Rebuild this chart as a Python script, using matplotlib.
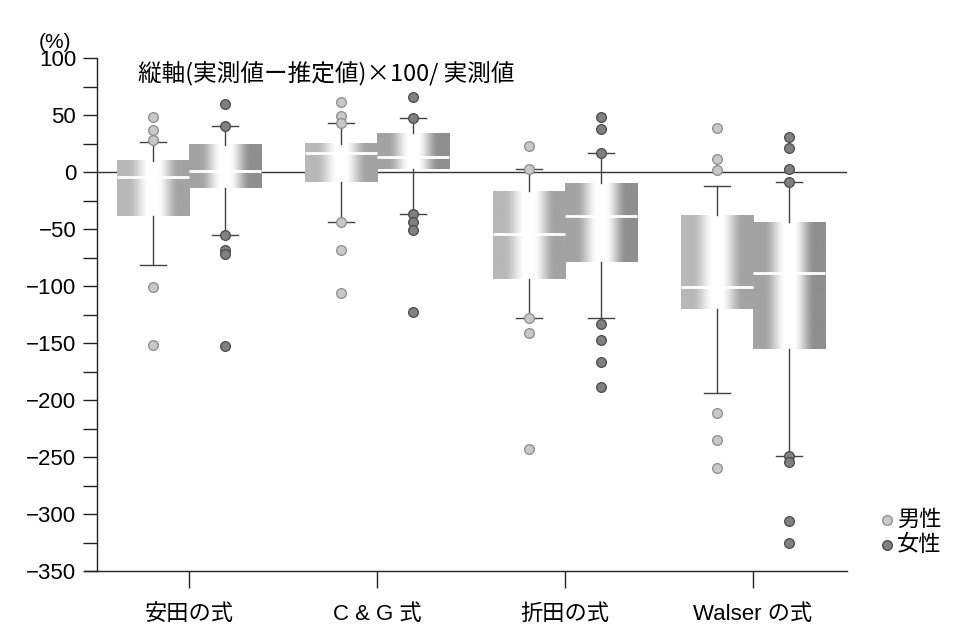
import numpy as np
import matplotlib
matplotlib.use("Agg")
import matplotlib.pyplot as plt

plt.rcParams['font.family'] = ['Liberation Sans', 'Noto Sans CJK JP', 'DejaVu Sans']
plt.rcParams['axes.unicode_minus'] = True

# ---------------- data ----------------
categories = ['安田の式', 'C & G 式', '折田の式', 'Walser の式']
series_names = ['男性', '女性']

male_q1 = [-39, -9, -94, -120]
male_med = [-4, 17, -54, -101]
male_q3 = [10, 25, -17, -38]
male_wlo = [-82, -44, -128, -194]
male_whi = [26, 43, 3, -12]
male_out = [[48, 37, 28, -101, -152],
            [61, 49, 43, -44, -68, -106],
            [23, 3, -128, -141, -243],
            [39, 11, 2, -211, -235, -260]]

female_q1 = [-14, 3, -79, -155]
female_med = [1, 13, -39, -89]
female_q3 = [24, 34, -10, -44]
female_wlo = [-55, -37, -128, -249]
female_whi = [40, 47, 17, -9]
female_out = [[60, 40, -55, -68, -72, -153],
              [66, 47, -37, -44, -51, -123],
              [48, 38, 17, -133, -147, -167, -189],
              [31, 21, 3, -9, -249, -254, -306, -325]]

yticks = [100, 50, 0, -50, -100, -150, -200, -250, -300, -350]
title = '縦軸(実測値ー推定値)×100/ 実測値'
unit = '(%)'

# ---------------- figure ----------------
fig = plt.figure(figsize=(9.61, 6.34), dpi=100)
ax = fig.add_axes([85/961, 63/634, (847-85)/961, (571-58)/634])

BW = 0.383  # box width in group units
male_style = dict(face='#c8c8c8', edge='#8c8c8c', left=0.72, right=0.64)
female_style = dict(face='#808080', edge='#4a4a4a', left=0.64, right=0.56)


def gradient_img(left_level, right_level, n=300):
    t = np.linspace(0, 1, n)
    d = np.abs(t - 0.5)
    w = np.clip((d - 0.05) / 0.30, 0, 1)
    w = w * w * (3 - 2 * w)
    edge = np.where(t < 0.5, left_level, right_level)
    lvl = 1 - (1 - edge) * w
    return lvl[None, :]


def draw_box(x0, q1, med, q3, wlo, whi, outs, st):
    img = gradient_img(st['left'], st['right'])
    ax.imshow(img, cmap='gray', vmin=0, vmax=1, aspect='auto',
              extent=[x0, x0 + BW, q1, q3], interpolation='bilinear',
              zorder=2)
    xc = x0 + BW / 2
    ax.plot([x0, x0 + BW], [med, med], color='white', lw=2.0, zorder=3,
            solid_capstyle='butt')
    ax.plot([xc, xc], [q3, whi], color='#444444', lw=1.0, zorder=3)
    ax.plot([xc, xc], [q1, wlo], color='#444444', lw=1.0, zorder=3)
    cw = 0.07
    ax.plot([xc - cw, xc + cw], [whi, whi], color='#444444', lw=1.0, zorder=3)
    ax.plot([xc - cw, xc + cw], [wlo, wlo], color='#444444', lw=1.0, zorder=3)
    ax.plot([xc] * len(outs), outs, 'o', ms=7, mfc=st['face'],
            mec=st['edge'], mew=0.9, zorder=4, linestyle='none')


for i in range(len(categories)):
    draw_box(i - BW, male_q1[i], male_med[i], male_q3[i], male_wlo[i],
             male_whi[i], male_out[i], male_style)
    draw_box(i, female_q1[i], female_med[i], female_q3[i], female_wlo[i],
             female_whi[i], female_out[i], female_style)

xl, xr = (85 - 189) / 188, (847 - 189) / 188
spine_x = (97 - 189) / 188
ax.set_xlim(xl, xr)
ax.set_ylim(-350, 100)

# zero line
ax.plot([spine_x, xr], [0, 0], color='#333333', lw=1.0, zorder=1)

# spines
for s in ['top', 'right']:
    ax.spines[s].set_visible(False)
ax.spines['left'].set_position(('data', spine_x))
ax.spines['left'].set_color('#222222')
ax.spines['bottom'].set_color('#222222')
ax.spines['left'].set_linewidth(1.0)
ax.spines['bottom'].set_linewidth(1.0)

ax.set_yticks(yticks)
ax.set_yticks(np.arange(-325, 100, 50), minor=True)
ax.tick_params(axis='y', which='both', direction='out', length=10, width=1.0,
               color='#222222', labelsize=16, pad=5)
ax.set_xticks(range(len(categories)))
ax.set_xticklabels(categories)
ax.tick_params(axis='x', direction='out', length=12, width=1.0,
               color='#222222', labelsize=16, pad=12)

fig.text(55/961, 1 - 42/634, unit, fontsize=15, ha='center', va='center')
fig.text(138/961, 1 - 74/634, title, fontsize=17, ha='left', va='center',
         family=['Noto Sans CJK JP', 'DejaVu Sans'])

# legend
for k, (name, st) in enumerate(zip(series_names, [male_style, female_style])):
    ypix = 520 + 25 * k
    fig.lines.append(plt.Line2D([887/961], [1 - ypix/634], marker='o', ms=7,
                                mfc=st['face'], mec=st['edge'], mew=0.9,
                                transform=fig.transFigure, linestyle='none'))
    fig.text(897/961, 1 - ypix/634, name, fontsize=16, ha='left', va='center')

fig.savefig('out.png', dpi=100)
